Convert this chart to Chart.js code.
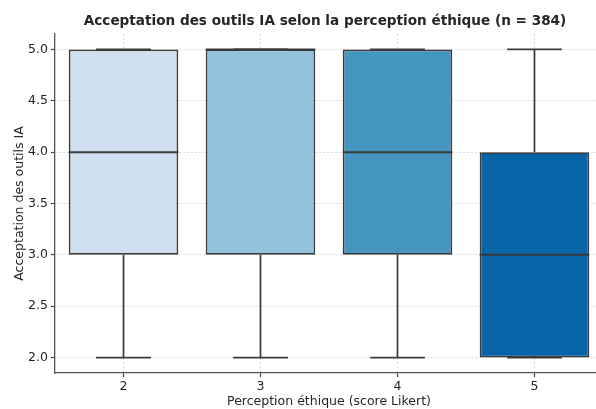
<!DOCTYPE html>
<html lang="fr">
<head>
<meta charset="utf-8">
<title>Acceptation des outils IA</title>
<style>
  html, body { margin: 0; padding: 0; overflow: hidden; background: #fff; }
  #wrap { position: absolute; left: 0; top: 0; width: 603px; height: 409px; }
</style>
</head>
<body>
<div id="wrap"><canvas id="box"></canvas></div>

<script src="https://cdn.jsdelivr.net/npm/chart.js"></script>
<script>
// perception scores (Likert) and the five-number summary of each group
const categories = ['2', '3', '4', '5'];
const whiskerLow = [2, 2, 2, 2];
const q1 = [3, 3, 3, 2];
const median = [4, 5, 4, 3];
const q3 = [5, 5, 5, 4];
const whiskerHigh = [5, 5, 5, 5];
const yTicks = [2.0, 2.5, 3.0, 3.5, 4.0, 4.5, 5.0];
const boxColors = ['#cfe1f0', '#93c3da', '#4595c1', '#0764a6'];

const edge = '#3a3a3a';
const font = 'DejaVu Sans';

// whiskers, caps and median lines over the floating bars, plus the title
const boxPlugin = {
  id: 'boxParts',
  afterDatasetsDraw(chart) {
    const ctx = chart.ctx;
    const y = chart.scales.y;
    const meta = chart.getDatasetMeta(0);
    ctx.save();
    ctx.strokeStyle = edge;
    meta.data.forEach((bar, i) => {
      const x = bar.x;
      const half = bar.width / 2;
      const cap = half / 2;
      ctx.lineWidth = 1.7;
      ctx.beginPath();
      if (whiskerHigh[i] > q3[i]) {
        ctx.moveTo(x, y.getPixelForValue(q3[i]));
        ctx.lineTo(x, y.getPixelForValue(whiskerHigh[i]));
      }
      ctx.moveTo(x - cap, y.getPixelForValue(whiskerHigh[i]));
      ctx.lineTo(x + cap, y.getPixelForValue(whiskerHigh[i]));
      if (whiskerLow[i] < q1[i]) {
        ctx.moveTo(x, y.getPixelForValue(q1[i]));
        ctx.lineTo(x, y.getPixelForValue(whiskerLow[i]));
      }
      ctx.moveTo(x - cap, y.getPixelForValue(whiskerLow[i]));
      ctx.lineTo(x + cap, y.getPixelForValue(whiskerLow[i]));
      ctx.stroke();
      ctx.lineWidth = 2;
      ctx.beginPath();
      ctx.moveTo(x - half, y.getPixelForValue(median[i]));
      ctx.lineTo(x + half, y.getPixelForValue(median[i]));
      ctx.stroke();
    });
    ctx.fillStyle = '#262626';
    ctx.font = 'bold 13.6px "' + font + '"';
    ctx.textAlign = 'center';
    ctx.textBaseline = 'middle';
    ctx.fillText('Acceptation des outils IA selon la perception éthique (n = 384)', 325, 21);
    ctx.restore();
  }
};

new Chart(document.getElementById('box'), {
  type: 'bar',
  data: {
    labels: categories,
    datasets: [{
      data: q1.map((v, i) => [v, q3[i]]),
      backgroundColor: boxColors,
      borderColor: edge,
      borderWidth: 1.8,
      borderSkipped: false,
      categoryPercentage: 0.8,
      barPercentage: 1.0
    }]
  },
  options: {
    responsive: true,
    maintainAspectRatio: false,
    animation: false,
    layout: { padding: { top: 34, left: 0, right: 0, bottom: 0 } },
    plugins: { legend: { display: false }, tooltip: { enabled: false } },
    scales: {
      x: {
        z: 1,
        offset: true,
        afterFit(axis) { axis.height = 36; },
        grid: { offset: false, color: '#cfcfcf', lineWidth: 0.8, tickLength: 4, tickColor: '#444', tickBorderDash: [], tickWidth: 1.2 },
        border: { display: true, color: '#555', width: 1.3, dash: [2, 2] },
        ticks: { color: '#262626', padding: 2, font: { family: font, size: 12.5 } },
        title: { display: true, text: 'Perception éthique (score Likert)', color: '#262626', padding: 0, font: { family: font, size: 12.5 } }
      },
      y: {
        z: 1,
        min: 1.85,
        max: 5.15,
        afterFit(axis) { axis.width = 55; },
        afterBuildTicks(axis) { axis.ticks = yTicks.map(v => ({ value: v })); },
        grid: { color: '#cfcfcf', lineWidth: 0.8, tickLength: 4, tickColor: '#444', tickBorderDash: [], tickWidth: 1.2 },
        border: { display: true, color: '#555', width: 1.3, dash: [2, 2] },
        ticks: { color: '#262626', padding: 3, font: { family: font, size: 12.5 }, callback: v => Number(v).toFixed(1) },
        title: { display: true, text: 'Acceptation des outils IA', color: '#262626', padding: { top: 12, bottom: 0 }, font: { family: font, size: 12.5 } }
      }
    }
  },
  plugins: [boxPlugin]
});
</script>
</body>
</html>
